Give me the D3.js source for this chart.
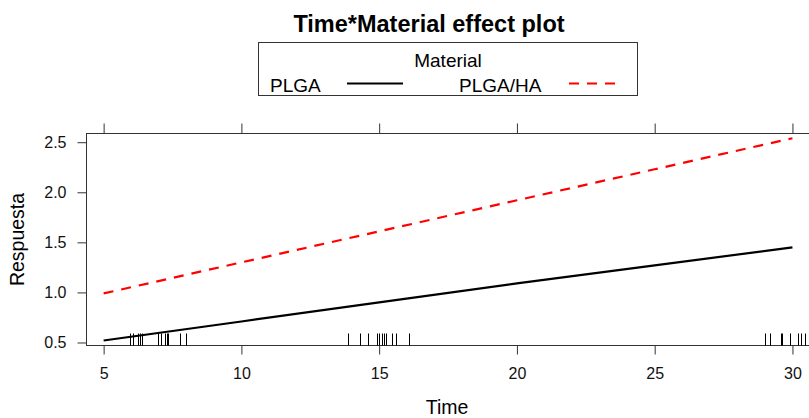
<!DOCTYPE html>
<html>
<head>
<meta charset="utf-8">
<script src="https://cdn.jsdelivr.net/npm/d3@7"></script>
<style>
  body { margin: 0; background: #fff; }
  svg { display: block; font-family: "Liberation Sans", Arial, sans-serif; }
</style>
</head>
<body>
<div id="chart"></div>
<script>
// Values
const times = [5, 10, 15, 20, 25, 30];
const plga = [0.52, 0.71, 0.90, 1.09, 1.27, 1.45];
const plgaHa = [0.99, 1.30, 1.61, 1.92, 2.23, 2.54];
const rugTimes = [5.94, 6.08, 6.23, 6.33, 6.38, 6.96, 7.08, 7.21, 7.3, 7.34, 7.76, 7.99,
  13.88, 14.29, 14.61, 14.91, 15.0, 15.12, 15.18, 15.24, 15.45, 15.62, 16.08,
  29.0, 29.2, 29.58, 29.62, 29.9, 30.2, 30.3, 30.45, 30.6];
const xTicks = [5, 10, 15, 20, 25, 30];
const yTicks = [0.5, 1.0, 1.5, 2.0, 2.5];
const seriesNames = ["PLGA", "PLGA/HA"];

const width = 809;
const height = 418;

const svg = d3.select("#chart").append("svg")
  .attr("width", width)
  .attr("height", height);

// Scales (the panel runs off the right edge, as in the original)
const x = d3.scaleLinear().domain([4.36, 31.0]).range([86, 820]);
const y = d3.scaleLinear().domain([0.47, 2.587]).range([345.5, 133.5]);

// Title
svg.append("text")
  .attr("x", 429)
  .attr("y", 32)
  .attr("text-anchor", "middle")
  .attr("font-size", 23.5)
  .attr("font-weight", "bold")
  .text("Time*Material effect plot");

// Legend
const legend = svg.append("g");
legend.append("rect")
  .attr("x", 258.5).attr("y", 42.5)
  .attr("width", 379).attr("height", 53)
  .attr("fill", "none").attr("stroke", "#333");
legend.append("text")
  .attr("x", 448).attr("y", 66.5)
  .attr("text-anchor", "middle")
  .attr("font-size", 19)
  .text("Material");
legend.append("text")
  .attr("x", 270).attr("y", 92)
  .attr("font-size", 19)
  .text(seriesNames[0]);
legend.append("line")
  .attr("x1", 347).attr("x2", 403).attr("y1", 83.5).attr("y2", 83.5)
  .attr("stroke", "#000").attr("stroke-width", 2.2);
legend.append("text")
  .attr("x", 459).attr("y", 92)
  .attr("font-size", 19)
  .text(seriesNames[1]);
legend.append("line")
  .attr("x1", 569).attr("x2", 622).attr("y1", 83.5).attr("y2", 83.5)
  .attr("stroke", "#ff0000").attr("stroke-width", 2.2)
  .attr("stroke-dasharray", "10,8");

// Panel border
svg.append("rect")
  .attr("x", x(4.36) + 0.5).attr("y", y(2.587))
  .attr("width", x(31.0) - x(4.36)).attr("height", y(0.47) - y(2.587))
  .attr("fill", "none").attr("stroke", "#333");

// Axes
const axisLeft = svg.append("g")
  .attr("transform", `translate(${x(4.36) + 0.5},0)`)
  .call(d3.axisLeft(y).tickValues(yTicks).tickFormat(d3.format(".1f")).tickSize(9).tickPadding(11).tickSizeOuter(0));
const axisBottom = svg.append("g")
  .attr("transform", `translate(0,${y(0.47)})`)
  .call(d3.axisBottom(x).tickValues(xTicks).tickFormat(d3.format("d")).tickSize(9).tickPadding(13).tickSizeOuter(0));
const axisTop = svg.append("g")
  .attr("transform", `translate(0,${y(2.587)})`)
  .call(d3.axisTop(x).tickValues(xTicks).tickFormat("").tickSize(10).tickSizeOuter(0));

[axisLeft, axisBottom, axisTop].forEach((g) => {
  g.select(".domain").remove();
  g.selectAll("line").attr("stroke", "#333");
  g.selectAll("text").attr("font-size", 16).attr("fill", "#111")
    .attr("font-family", "Liberation Sans, Arial, sans-serif");
});

// Axis titles
svg.append("text")
  .attr("transform", `translate(24,${(y(0.47) + y(2.587)) / 2}) rotate(-90)`)
  .attr("text-anchor", "middle")
  .attr("font-size", 19.5)
  .text("Respuesta");
svg.append("text")
  .attr("x", 447).attr("y", 414)
  .attr("text-anchor", "middle")
  .attr("font-size", 19.5)
  .text("Time");

// Rug
svg.append("g")
  .selectAll("line")
  .data(rugTimes)
  .join("line")
  .attr("x1", (d) => Math.round(x(d)) + 0.5)
  .attr("x2", (d) => Math.round(x(d)) + 0.5)
  .attr("y1", y(0.47))
  .attr("y2", y(0.47) - 12)
  .attr("stroke", "#000")
  .attr("stroke-width", 1);

// Effect lines
const line = d3.line().x((d) => x(d[0])).y((d) => y(d[1]));
svg.append("path")
  .datum(times.map((t, i) => [t, plga[i]]))
  .attr("d", line)
  .attr("fill", "none")
  .attr("stroke", "#000")
  .attr("stroke-width", 2.2);
svg.append("path")
  .datum(times.map((t, i) => [t, plgaHa[i]]))
  .attr("d", line)
  .attr("fill", "none")
  .attr("stroke", "#ff0000")
  .attr("stroke-width", 2.2)
  .attr("stroke-dasharray", "10,8");
</script>
</body>
</html>
